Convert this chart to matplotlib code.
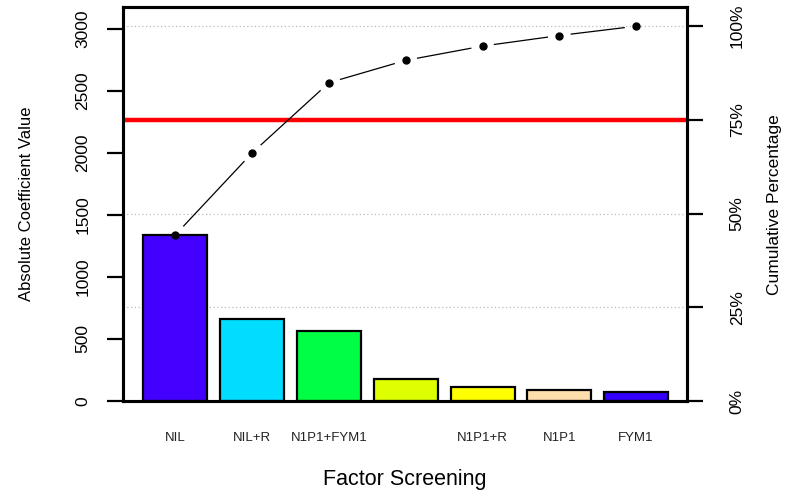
import matplotlib
matplotlib.use("Agg")
import matplotlib.pyplot as plt
import numpy as np

plt.rcParams['font.family'] = ['Liberation Sans', 'DejaVu Sans']

### data ###
factors = ["NIL", "NIL+R", "N1P1+FYM1", "", "N1P1+R", "N1P1", "FYM1"]
coef = [1340, 660, 565, 180, 115, 85, 75]
bar_colors = ["#4400ff", "#00ddff", "#00ff44", "#ddff00", "#ffff00", "#ffdead", "#3300ff"]
pct_ticks = [0, 25, 50, 75, 100]
pct_labels = ["0%", "25%", "50%", "75%", "100%"]
left_ticks = [0, 500, 1000, 1500, 2000, 2500, 3000]
cut_pct = 75

total = float(sum(coef))
cum = np.cumsum(coef)
x = np.arange(len(coef)) * 1.2

fig = plt.figure(figsize=(7.87, 4.90), dpi=100)
ax = fig.add_axes([0.1563, 0.1816, 0.717, 0.8034])

ax.bar(x, coef, width=1.0, color=bar_colors, edgecolor="black", linewidth=1.6, zorder=2)
ax.set_xlim(x[0] - 0.82, x[-1] + 0.8)
ax.set_ylim(0, 3172)

# dotted grid at the percentage ticks
for p in pct_ticks[1:]:
    ax.axhline(total * p / 100, color="#bbbbbb", ls=(0, (1, 2)), lw=0.9, zorder=1)

ax.axhline(total * cut_pct / 100, color="#ff0000", lw=3.2, zorder=4)

ax.set_yticks(left_ticks)
ax.set_yticklabels([str(v) for v in left_ticks], rotation=90, va="center", fontsize=12.5)
ax.tick_params(axis="y", length=11.5, width=1.6, pad=12)
ax.set_xticks(x)
ax.set_xticklabels(factors, fontsize=9.5, color="#222222")
ax.tick_params(axis="x", length=0, pad=22)
ax.set_ylabel("Absolute Coefficient Value", fontsize=12, labelpad=30)
ax.set_xlabel("Factor Screening", fontsize=15.5, labelpad=18)
for s in ax.spines.values():
    s.set_linewidth(2.2)

ax2 = ax.twinx()
ax2.set_ylim(ax.get_ylim())
ax2.set_yticks([total * p / 100 for p in pct_ticks])
ax2.set_yticklabels(pct_labels, rotation=90, va="center", fontsize=12.5)
ax2.tick_params(axis="y", length=11.5, width=1.6, pad=19)
ax2.set_ylabel("Cumulative Percentage", fontsize=12.5, labelpad=16)
for s in ax2.spines.values():
    s.set_linewidth(2.2)

# cumulative curve: points with gapped connecting segments
fig.canvas.draw()
pts = ax.transData.transform(np.column_stack([x, cum]))
gap = 12.0
for a, b in zip(pts[:-1], pts[1:]):
    d = b - a
    n = np.hypot(*d)
    if n <= 2 * gap:
        continue
    u = d / n
    seg = ax.transData.inverted().transform(np.vstack([a + u * gap, b - u * gap]))
    ax.plot(seg[:, 0], seg[:, 1], color="black", lw=0.9, zorder=5)
ax.plot(x, cum, "o", color="black", ms=5, zorder=6)

fig.savefig("out.png", dpi=100)
